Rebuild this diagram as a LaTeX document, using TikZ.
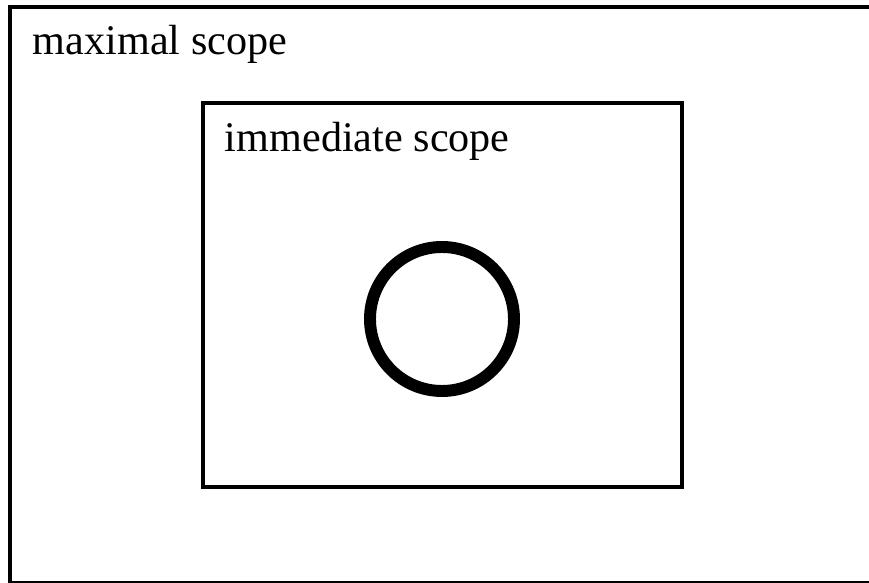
\documentclass[tikz,border=0pt]{standalone}
\usepackage{fontspec}
\setmainfont{Liberation Serif}
\begin{document}
\begin{tikzpicture}[x=0.025cm,y=0.025cm,font=\fontsize{30}{34}\selectfont,line join=miter,line width=2.8pt]
				\useasboundingbox (0,0) rectangle (869,583);
				\clip (0,0) rectangle (869,583);
				\path
				(10,576) coordinate (maxNW)
				(872,0.3) coordinate (maxSE)
				(203,480) coordinate (immNW)
				(682,96) coordinate (immSE)
				(442,264) coordinate (O)
				;
				\draw (maxNW) rectangle (maxSE);
				\draw (immNW) rectangle (immSE);
				\draw[line width=8.5pt] (O) circle (72);
				\path (maxNW)+(21,-48) node[anchor=base west,inner sep=0pt] (maxlabel) {maximal scope};
				\path (immNW)+(20,-49) node[anchor=base west,inner sep=0pt] (immlabel) {immediate scope};
			\end{tikzpicture}
\end{document}
